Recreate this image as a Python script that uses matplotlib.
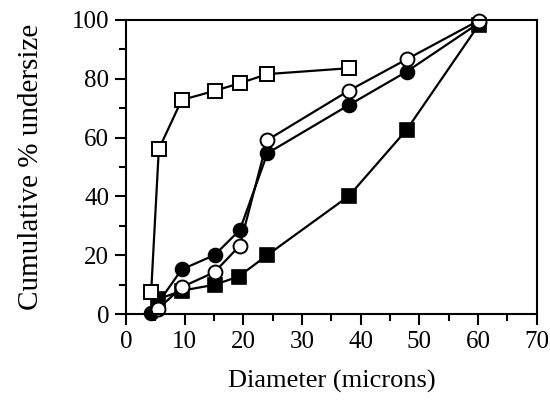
import matplotlib
matplotlib.use('Agg')
import matplotlib.pyplot as plt
from matplotlib.ticker import MultipleLocator

# diameter (microns) / cumulative % undersize
open_sq_x = [4.3, 5.6, 9.5, 15.1, 19.4, 24.1, 38.0]
open_sq_y = [7.7, 56.1, 72.8, 75.9, 78.5, 81.6, 83.6]

filled_circ_x = [4.3, 9.5, 15.1, 19.4, 24.1, 38.0, 47.8, 60.1]
filled_circ_y = [0.5, 15.2, 20.1, 28.6, 54.7, 71.1, 82.4, 98.9]

open_circ_x = [5.5, 9.5, 15.1, 19.4, 24.1, 38.0, 47.8, 60.1]
open_circ_y = [1.8, 9.2, 14.3, 23.3, 59.2, 76.0, 86.6, 99.8]

filled_sq_x = [5.5, 9.5, 15.1, 19.2, 24.1, 38.0, 47.8, 60.1]
filled_sq_y = [5.1, 8.0, 10.0, 12.8, 20.1, 40.2, 62.6, 98.3]

plt.rcParams['font.family'] = ['Liberation Serif', 'DejaVu Serif']

fig = plt.figure(figsize=[5.5, 4.07], dpi=100)
ax = fig.add_axes([0.229, 0.228, 0.747, 0.723])

lw = 1.6
ms = 10
ax.plot(filled_sq_x, filled_sq_y, 'k-', marker='s', mfc='black', mec='black',
        ms=ms, lw=lw, mew=1.2)
ax.plot(filled_circ_x, filled_circ_y, 'k-', marker='o', mfc='black', mec='black',
        ms=ms, lw=lw, mew=1.2)
ax.plot(open_circ_x, open_circ_y, 'k-', marker='o', mfc='white', mec='black',
        ms=ms, lw=lw, mew=1.4)
ax.plot(open_sq_x, open_sq_y, 'k-', marker='s', mfc='white', mec='black',
        ms=ms, lw=lw, mew=1.4)

ax.set_xlim(0, 70)
ax.set_ylim(0, 100)
ax.xaxis.set_major_locator(MultipleLocator(10))
ax.xaxis.set_minor_locator(MultipleLocator(5))
ax.yaxis.set_major_locator(MultipleLocator(20))
ax.yaxis.set_minor_locator(MultipleLocator(10))
ax.tick_params(which='both', direction='out', top=False, right=False,
               width=1.5, labelsize=18, colors='black')
ax.tick_params(which='major', length=8, pad=4)
ax.tick_params(which='minor', length=5)
for s in ax.spines.values():
    s.set_linewidth(1.5)
for line in ax.lines:
    line.set_clip_on(False)

ax.set_xlabel('Diameter (microns)', fontsize=19, labelpad=12)
ax.set_ylabel('Cumulative % undersize', fontsize=21, labelpad=20)

fig.savefig('out.png', dpi=100)
